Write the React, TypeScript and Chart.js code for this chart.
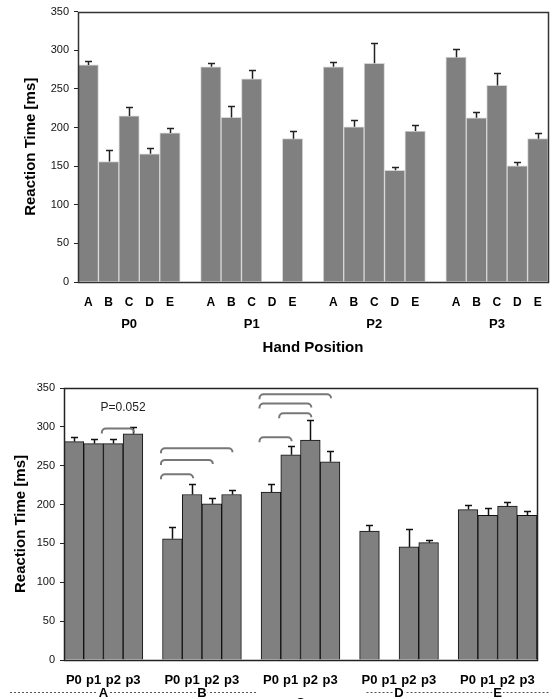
import { useEffect, useRef } from 'react';
import { Chart, registerables } from 'chart.js';

Chart.register(...registerables);

const FONT = "'Liberation Sans', Arial, sans-serif";

// ---------- Top chart data (grouped by hand position) ----------
const handPositions = ['P0', 'P1', 'P2', 'P3'];
const targets = ['A', 'B', 'C', 'D', 'E'];
const topP0 = [281, 156, 215, 166, 193];
const topP1 = [278.5, 213, 263, null, 185.5];
const topP2 = [278.5, 201, 283, 144.5, 195.5];
const topP3 = [291, 212.5, 254.5, 150.5, 185.5];
const topErrP0 = [5, 15, 11, 8, 6];
const topErrP1 = [5.5, 15, 12, null, 9.5];
const topErrP2 = [6, 9, 26, 4.5, 8];
const topErrP3 = [10, 7.5, 15.5, 5, 7];

// ---------- Bottom chart data (grouped by target) ----------
const posLabels = ['P0', 'p1', 'p2', 'p3'];
const botA = [281, 278.5, 278.5, 291];
const botB = [156, 213, 201, 213];
const botC = [216, 264, 283, 255];
const botD = [166, null, 145.5, 151];
const botE = [193.5, 186, 198, 186];
const botErrA = [5.5, 5.5, 6, 9];
const botErrB = [14.5, 14, 8, 5.5];
const botErrC = [10, 12, 25.5, 14];
const botErrD = [8, null, 23, 4];
const botErrE = [5.5, 9, 5.5, 6];

// significance brackets: group, from bar, to bar, level (ms)
const bracketGroup = [0, 1, 1, 1, 2, 2, 2, 2];
const bracketFrom = [2, 0, 0, 0, 0, 1, 0, 0];
const bracketTo = [3, 1, 2, 3, 1, 2, 2, 3];
const bracketLevel = [298, 239, 257.5, 272.5, 286.5, 317.5, 330, 342];
const pValueText = 'P=0.052';
const pValueLevel = 325;

const yTicksMax = 350;
const yTicksStep = 50;

function buildGrouped(groups: (number | null)[][], errs: (number | null)[][], names: string[]) {
  const labels: string[] = [];
  const values: (number | null)[] = [];
  const errors: (number | null)[] = [];
  const starts: number[] = [];
  groups.forEach((g, gi) => {
    if (gi > 0) {
      labels.push('');
      values.push(null);
      errors.push(null);
    }
    starts.push(labels.length);
    g.forEach((v, i) => {
      labels.push(names[i]);
      values.push(v);
      errors.push(errs[gi][i]);
    });
  });
  return { labels, values, errors, starts };
}

function errorBarPlugin(errors: (number | null)[], color: string, cap: number, lw: number) {
  return {
    id: 'errbars',
    afterDatasetsDraw(chart: any) {
      const meta = chart.getDatasetMeta(0);
      const ys = chart.scales.y;
      const data = chart.data.datasets[0].data;
      const ctx = chart.ctx;
      ctx.save();
      ctx.strokeStyle = color;
      ctx.lineWidth = lw;
      meta.data.forEach((bar: any, i: number) => {
        const v = data[i];
        const e = errors[i];
        if (v == null || e == null) return;
        const x = Math.round(bar.x) + 0.5;
        const y0 = ys.getPixelForValue(v);
        const y1 = Math.round(ys.getPixelForValue(v + e)) + 0.5;
        ctx.beginPath();
        ctx.moveTo(x, y0);
        ctx.lineTo(x, y1);
        ctx.moveTo(x - cap / 2, y1);
        ctx.lineTo(x + cap / 2, y1);
        ctx.stroke();
      });
      ctx.restore();
    },
  };
}

function framePlugin(color: string, lw: number) {
  return {
    id: 'frame',
    afterDatasetsDraw(chart: any) {
      const { left, right, top, bottom } = chart.chartArea;
      const ctx = chart.ctx;
      ctx.save();
      ctx.strokeStyle = color;
      ctx.lineWidth = lw;
      ctx.strokeRect(Math.round(left) + 0.5, Math.round(top) + 0.5, Math.round(right - left), Math.round(bottom - top));
      ctx.restore();
    },
  };
}

function yAxis(titlePad: number, width: number) {
  return {
    min: 0,
    max: yTicksMax,
    ticks: { stepSize: yTicksStep, font: { family: FONT, size: 11 }, color: '#111', padding: 5 },
    grid: { drawOnChartArea: false, drawTicks: true, tickLength: 4, color: '#222' },
    border: { display: false },
    title: {
      display: true,
      text: 'Reaction Time [ms]',
      font: { family: FONT, size: 15, weight: 'bold' },
      color: '#000',
      padding: { top: titlePad, bottom: 0 },
    },
    afterFit: (s: any) => {
      s.width = width;
    },
  };
}

function TopChart() {
  const ref = useRef<HTMLCanvasElement>(null);
  useEffect(() => {
    const built = buildGrouped(
      [topP0, topP1, topP2, topP3],
      [topErrP0, topErrP1, topErrP2, topErrP3],
      targets
    );
    const groupLabels = {
      id: 'groupLabels',
      afterDraw(chart: any) {
        const xs = chart.scales.x;
        const ctx = chart.ctx;
        ctx.save();
        ctx.fillStyle = '#000';
        ctx.font = `bold 13px ${FONT}`;
        ctx.textAlign = 'center';
        ctx.textBaseline = 'middle';
        built.starts.forEach((s, gi) => {
          ctx.fillText(handPositions[gi], xs.getPixelForValue(s + 2), 324);
        });
        ctx.restore();
      },
    };
    const chart = new Chart(ref.current as HTMLCanvasElement, {
      type: 'bar',
      data: {
        labels: built.labels,
        datasets: [
          {
            data: built.values as any,
            backgroundColor: '#808080',
            borderColor: '#d6d6d6',
            borderWidth: 1,
            barPercentage: 1,
            categoryPercentage: 1,
          },
        ],
      },
      options: {
        animation: false,
        responsive: false,
        events: [],
        layout: { padding: { top: 10, right: 5, left: 0, bottom: 0 } },
        plugins: { legend: { display: false }, tooltip: { enabled: false } },
        scales: {
          x: {
            type: 'category',
            offset: true,
            grid: { display: false },
            border: { display: false },
            ticks: {
              autoSkip: false,
              maxRotation: 0,
              minRotation: 0,
              padding: 5,
              color: '#000',
              font: { family: FONT, size: 12, weight: 'bold' },
            },
            title: {
              display: true,
              text: 'Hand Position',
              color: '#000',
              font: { family: FONT, size: 15, weight: 'bold' },
              padding: { top: 0, bottom: 8 },
            },
            afterFit: (s: any) => {
              s.height = 83;
            },
          },
          y: yAxis(22, 78) as any,
        },
      },
      plugins: [errorBarPlugin(built.errors, '#222', 7, 1.5), framePlugin('#333', 1.5), groupLabels],
    });
    return () => chart.destroy();
  }, []);
  return <canvas ref={ref} width={553} height={365} style={{ display: 'block' }} />;
}

function BottomChart() {
  const ref = useRef<HTMLCanvasElement>(null);
  useEffect(() => {
    const built = buildGrouped(
      [botA, botB, botC, botD, botE],
      [botErrA, botErrB, botErrC, botErrD, botErrE],
      posLabels
    );
    const annotations = {
      id: 'annotations',
      afterDraw(chart: any) {
        const xs = chart.scales.x;
        const ys = chart.scales.y;
        const ctx = chart.ctx;
        const slot = xs.getPixelForValue(1) - xs.getPixelForValue(0);
        ctx.save();
        // brackets
        ctx.strokeStyle = '#777';
        ctx.lineWidth = 2;
        bracketLevel.forEach((lvl, i) => {
          const s = built.starts[bracketGroup[i]];
          const x1 = xs.getPixelForValue(s + bracketFrom[i]) - slot * 0.58;
          const x2 = xs.getPixelForValue(s + bracketTo[i]) + slot * 0.05;
          const y = ys.getPixelForValue(lvl);
          const r = 4;
          ctx.beginPath();
          ctx.moveTo(x1, y + 5);
          ctx.arcTo(x1, y, x1 + r, y, r);
          ctx.lineTo(x2 - r, y);
          ctx.arcTo(x2, y, x2, y + 5, r);
          ctx.stroke();
        });
        // p value
        ctx.fillStyle = '#222';
        ctx.font = `12px ${FONT}`;
        ctx.textAlign = 'center';
        ctx.textBaseline = 'middle';
        const px = (xs.getPixelForValue(built.starts[0] + 2) + xs.getPixelForValue(built.starts[0] + 3)) / 2;
        ctx.fillText(pValueText, px, ys.getPixelForValue(pValueLevel));
        // dotted category line with group letters
        const centers = built.starts.map((s) => (xs.getPixelForValue(s + 1) + xs.getPixelForValue(s + 2)) / 2);
        const cLeft = xs.getPixelForValue(built.starts[2]) - slot * 0.7;
        const dLeft = xs.getPixelForValue(built.starts[3]) - slot * 0.15;
        ctx.strokeStyle = '#555';
        ctx.lineWidth = 1;
        ctx.setLineDash([2, 2]);
        ctx.beginPath();
        ctx.moveTo(10, 327.5);
        ctx.lineTo(cLeft, 327.5);
        ctx.moveTo(dLeft, 327.5);
        ctx.lineTo(550, 327.5);
        ctx.stroke();
        ctx.setLineDash([]);
        ctx.font = `bold 13px ${FONT}`;
        targets.forEach((t, i) => {
          const y = i === 2 ? 338 : 328;
          const w = ctx.measureText(t).width;
          if (i !== 2) {
            ctx.fillStyle = '#fff';
            ctx.fillRect(centers[i] - w / 2 - 1, 324, w + 2, 7);
          }
          ctx.fillStyle = '#000';
          ctx.fillText(t, centers[i], y);
        });
        ctx.restore();
      },
    };
    const chart = new Chart(ref.current as HTMLCanvasElement, {
      type: 'bar',
      data: {
        labels: built.labels,
        datasets: [
          {
            data: built.values as any,
            backgroundColor: '#808080',
            borderColor: '#111',
            borderWidth: 1,
            barPercentage: 1,
            categoryPercentage: 1,
          },
        ],
      },
      options: {
        animation: false,
        responsive: false,
        events: [],
        layout: { padding: { top: 23, right: 16, left: 0, bottom: 0 } },
        plugins: { legend: { display: false }, tooltip: { enabled: false } },
        scales: {
          x: {
            type: 'category',
            offset: true,
            grid: { display: false },
            border: { display: false },
            ticks: {
              autoSkip: false,
              maxRotation: 0,
              minRotation: 0,
              padding: 5,
              color: '#000',
              font: { family: FONT, size: 13, weight: 'bold' },
            },
            afterFit: (s: any) => {
              s.height = 39;
            },
          },
          y: yAxis(12, 64) as any,
        },
      },
      plugins: [errorBarPlugin(built.errors, '#111', 7, 1.5), framePlugin('#222', 1.5), annotations],
    });
    return () => chart.destroy();
  }, []);
  return <canvas ref={ref} width={553} height={334} style={{ display: 'block' }} />;
}

export default function App() {
  return (
    <div
      style={{
        position: 'absolute',
        left: 0,
        top: 0,
        width: 553,
        height: 699,
        background: '#fff',
        overflow: 'hidden',
      }}
    >
      <TopChart />
      <BottomChart />
    </div>
  );
}
